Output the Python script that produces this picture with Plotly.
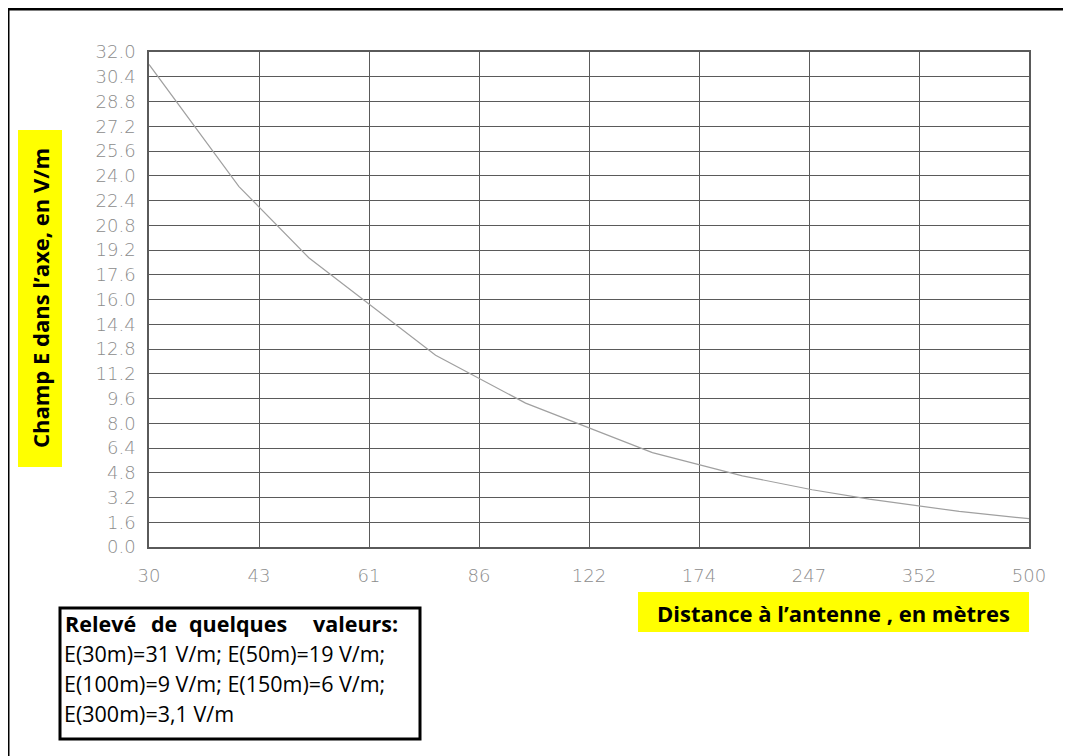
import numpy as np
import plotly.graph_objects as go

# ---- data ----
distance_m = [30, 40, 50, 75, 100, 150, 200, 250, 300, 400, 500]
field_vpm = [31.2, 23.3, 18.7, 12.4, 9.3, 6.1, 4.6, 3.7, 3.1, 2.3, 1.83]

x_tick_vals = [30 * (500 / 30) ** (k / 8) for k in range(9)]
x_tick_text = ["30", "43", "61", "86", "122", "174", "247", "352", "500"]
y_tick_vals = [round(1.6 * k, 1) for k in range(21)]
y_tick_text = [f"{v:.1f}" for v in y_tick_vals]

y_title = "Champ E dans l’axe, en V/m"
x_title = "Distance à l’antenne , en mètres"
box_words = ["Relevé", "de", "quelques", "valeurs:"]
box_lines = ["E(30m)=31 V/m; E(50m)=19 V/m;",
             "E(100m)=9 V/m; E(150m)=6 V/m;",
             "E(300m)=3,1 V/m"]

OFF = 8  # page body margin
W, H = 1071 - OFF, 756 - OFF
L, R, T, B = 149 - OFF, 1029 - OFF, 52 - OFF, 547 - OFF
PW, PH = R - L, B - T


def px(x):
    return (x - OFF - L) / PW


def py(y):
    return (B - (y - OFF)) / PH


fig = go.Figure()
fig.add_trace(go.Scatter(x=distance_m, y=field_vpm, mode="lines",
                         line=dict(color="#a0a0a0", width=1.2),
                         showlegend=False, hoverinfo="x+y"))

tick_font = dict(family="DejaVu Sans", size=18, color="#8c8c8c", weight=200)
grid_col = "#5a5a5a"

fig.update_xaxes(type="log", range=[np.log10(30), np.log10(500)],
                 tickmode="array", tickvals=x_tick_vals, ticktext=x_tick_text,
                 showgrid=True, gridcolor=grid_col, gridwidth=1.2,
                 showline=True, linecolor=grid_col, linewidth=1.5, mirror=True,
                 ticks="", tickfont=tick_font, ticklabelstandoff=12,
                 zeroline=False)
fig.update_yaxes(range=[0, 32], tickmode="array", tickvals=y_tick_vals,
                 ticktext=y_tick_text,
                 showgrid=True, gridcolor=grid_col, gridwidth=1.2,
                 showline=True, linecolor=grid_col, linewidth=1.5, mirror=True,
                 ticks="", tickfont=tick_font, ticklabelstandoff=8,
                 zeroline=False)

shapes = []
# outer frame (extends beyond right and bottom edges)
shapes.append(dict(type="rect", xref="paper", yref="paper",
                   x0=px(8), x1=px(1090), y0=py(780), y1=py(9),
                   line=dict(color="black", width=3), fillcolor="rgba(0,0,0,0)",
                   layer="below"))
# yellow box for y title
shapes.append(dict(type="rect", xref="paper", yref="paper",
                   x0=px(18), x1=px(62), y0=py(467), y1=py(130),
                   line=dict(width=0), fillcolor="#ffff00"))
# yellow box for x title
shapes.append(dict(type="rect", xref="paper", yref="paper",
                   x0=px(638), x1=px(1029), y0=py(632), y1=py(592),
                   line=dict(width=0), fillcolor="#ffff00"))
# values box
shapes.append(dict(type="rect", xref="paper", yref="paper",
                   x0=px(60), x1=px(420), y0=py(739), y1=py(608),
                   line=dict(color="black", width=3), fillcolor="white"))

annos = []
title_font = dict(family="Open Sans", size=22, color="black", weight="bold")
annos.append(dict(text=y_title, xref="paper", yref="paper", x=px(40), y=py(298),
                  textangle=-90, showarrow=False, font=title_font,
                  xanchor="center", yanchor="middle"))
annos.append(dict(text=x_title, xref="paper", yref="paper", x=px(833), y=py(613),
                  showarrow=False, font=title_font,
                  xanchor="center", yanchor="middle"))

box_font = dict(family="Open Sans", size=21.5, color="black")
word_x = [63, 149, 187, 400]
word_anchor = ["left", "left", "left", "right"]
for w, xx, an in zip(box_words, word_x, word_anchor):
    annos.append(dict(text=w, xref="paper", yref="paper", x=px(xx), y=py(623),
                      showarrow=False, font=dict(box_font, weight="bold"),
                      xanchor=an, yanchor="middle"))
for i, line in enumerate(box_lines):
    annos.append(dict(text=line, xref="paper", yref="paper", x=px(62),
                      y=py(653 + 30 * i), showarrow=False, font=box_font,
                      xanchor="left", yanchor="middle"))

fig.update_layout(width=W, height=H,
                  margin=dict(l=L, r=W - R, t=T, b=H - B),
                  paper_bgcolor="white", plot_bgcolor="white",
                  shapes=shapes, annotations=annos)

fig.write_html("out.html")
